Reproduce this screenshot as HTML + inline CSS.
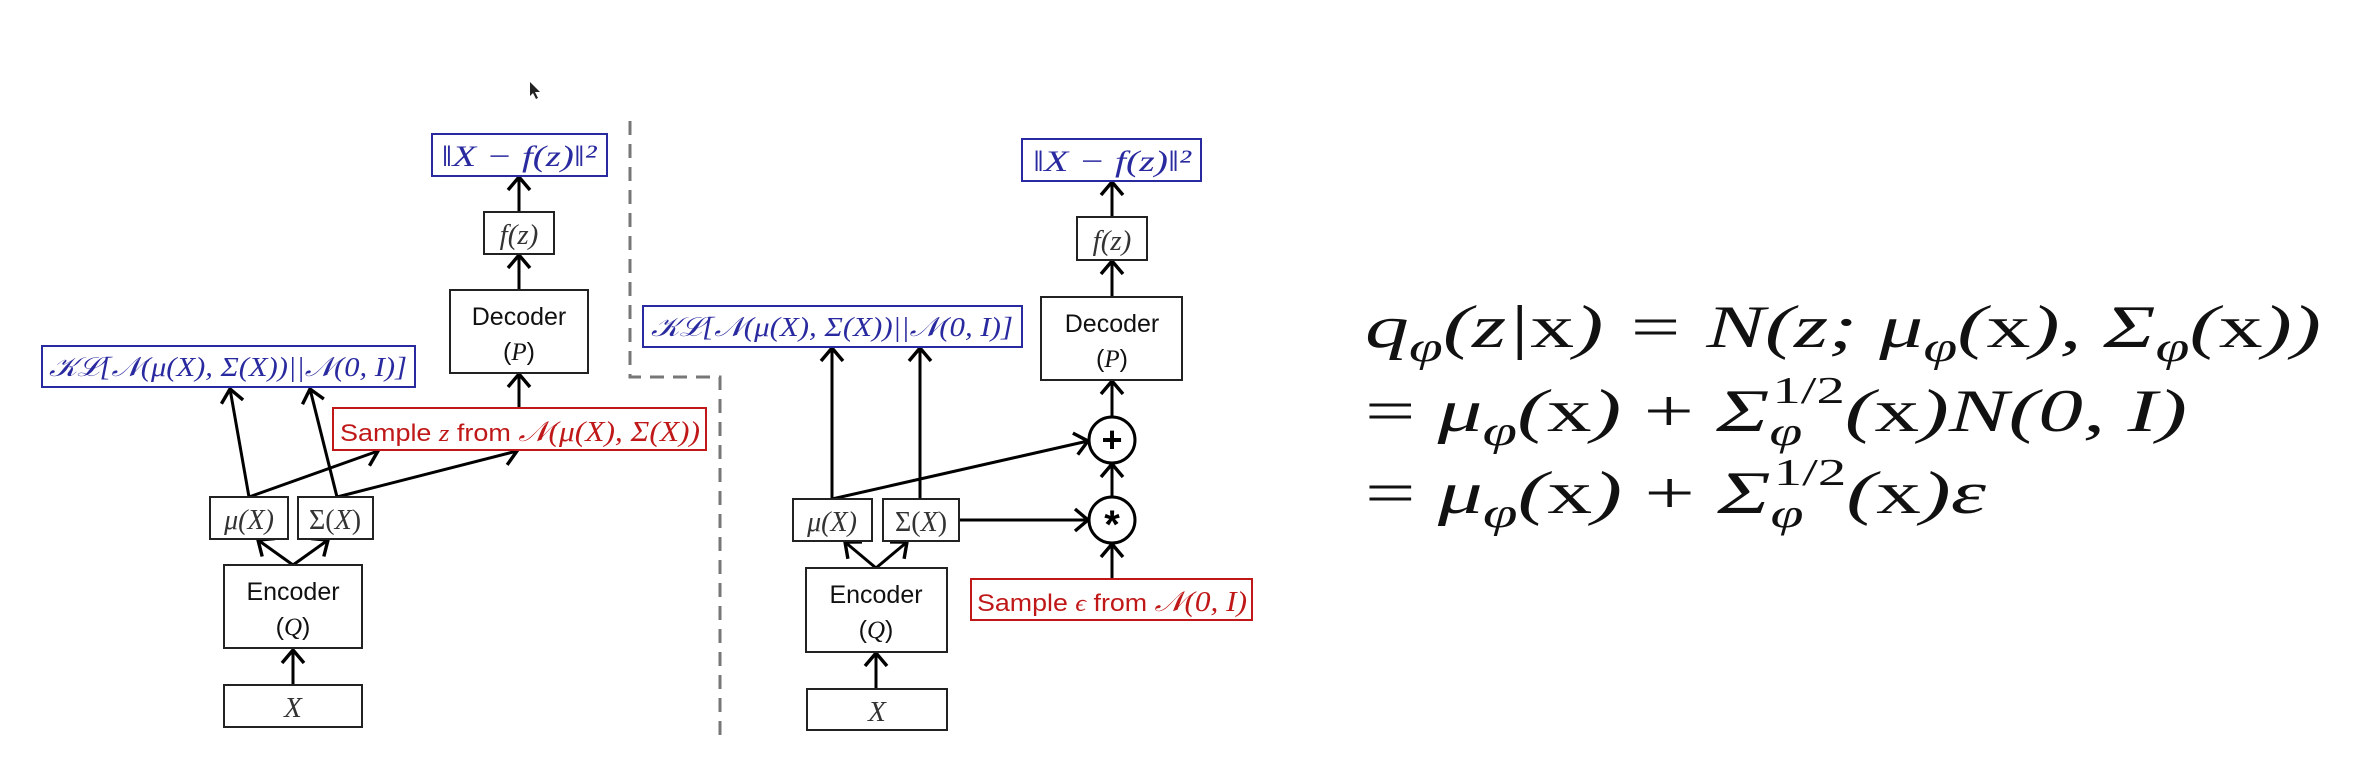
<!DOCTYPE html>
<html><head><meta charset="utf-8"><style>
html,body{margin:0;padding:0;background:#fff;}
svg{display:block;}
.m{font-family:"Liberation Serif","DejaVu Serif",serif;font-style:italic;}
.s{font-family:"Liberation Sans","DejaVu Sans",sans-serif;}
</style></head><body>
<svg width="2375" height="763" viewBox="0 0 2375 763" xmlns="http://www.w3.org/2000/svg">
<defs>
<marker id="a" markerUnits="userSpaceOnUse" markerWidth="34" markerHeight="34" refX="17" refY="17" orient="auto">
<polyline points="4,6 17,17 4,28" fill="none" stroke="#000" stroke-width="3.4"/>
</marker>
</defs>
<path d="M530,82 L530,96 L533,93 L536,99 L538,98 L535,92 L540,92 Z" fill="#222"/>
<path d="M630,121 L630,377 L720,377 L720,735" fill="none" stroke="#777" stroke-width="3" stroke-dasharray="14,9"/>

<g fill="none" stroke="#000" stroke-width="3" marker-end="url(#a)">
<line x1="293" y1="685" x2="293" y2="650"/>
<line x1="293" y1="565" x2="258" y2="540"/>
<line x1="293" y1="565" x2="328" y2="540"/>
<line x1="249" y1="497" x2="230" y2="389"/>
<line x1="249" y1="497" x2="378" y2="451"/>
<line x1="337" y1="497" x2="310" y2="389"/>
<line x1="337" y1="497" x2="517" y2="451"/>
<line x1="519" y1="408" x2="519" y2="374"/>
<line x1="519" y1="290" x2="519" y2="255"/>
<line x1="519" y1="212" x2="519" y2="177"/>
<line x1="876" y1="689" x2="876" y2="653"/>
<line x1="876" y1="568" x2="845" y2="542"/>
<line x1="876" y1="568" x2="907" y2="542"/>
<line x1="832" y1="499" x2="832" y2="348"/>
<line x1="920" y1="499" x2="920" y2="348"/>
<line x1="832" y1="499" x2="1088" y2="441"/>
<line x1="959" y1="520" x2="1088" y2="520"/>
<line x1="1112" y1="579" x2="1112" y2="544"/>
<line x1="1112" y1="497" x2="1112" y2="464"/>
<line x1="1112" y1="417" x2="1112" y2="381"/>
<line x1="1112" y1="297" x2="1112" y2="261"/>
<line x1="1112" y1="217" x2="1112" y2="182"/>
</g>

<g fill="#fff" stroke-width="2">
<rect x="432" y="134" width="175" height="42" stroke="#2a2aa0"/>
<rect x="484" y="212" width="70" height="42" stroke="#222"/>
<rect x="450" y="290" width="138" height="83" stroke="#222"/>
<rect x="42" y="346" width="373" height="41" stroke="#2a2aa0"/>
<rect x="333" y="408" width="373" height="42" stroke="#c01818"/>
<rect x="210" y="497" width="78" height="42" stroke="#222"/>
<rect x="298" y="497" width="75" height="42" stroke="#222"/>
<rect x="224" y="565" width="138" height="83" stroke="#222"/>
<rect x="224" y="685" width="138" height="42" stroke="#222"/>
<rect x="1022" y="139" width="179" height="42" stroke="#2a2aa0"/>
<rect x="1077" y="217" width="70" height="43" stroke="#222"/>
<rect x="1041" y="297" width="141" height="83" stroke="#222"/>
<rect x="643" y="306" width="379" height="41" stroke="#2a2aa0"/>
<rect x="971" y="579" width="281" height="41" stroke="#c01818"/>
<rect x="793" y="499" width="79" height="42" stroke="#222"/>
<rect x="883" y="499" width="76" height="42" stroke="#222"/>
<rect x="806" y="568" width="141" height="84" stroke="#222"/>
<rect x="807" y="689" width="140" height="41" stroke="#222"/>
</g>
<circle cx="1112" cy="440" r="23" fill="#fff" stroke="#000" stroke-width="3"/>
<circle cx="1112" cy="520" r="23" fill="#fff" stroke="#000" stroke-width="3"/>
<text x="1112" y="452" text-anchor="middle" class="s" font-size="36" font-weight="bold">+</text>
<text x="1112" y="538" text-anchor="middle" class="s" font-size="40" font-weight="bold">*</text>

<g class="m" font-size="30" text-anchor="middle">
<text x="519" y="166" fill="#2a2aa0" textLength="155" lengthAdjust="spacingAndGlyphs">‖X − f(z)‖²</text>
<text x="519" y="244" fill="#333" font-size="29">f(z)</text>
<text x="228" y="376" fill="#2a2aa0" font-size="27" textLength="358" lengthAdjust="spacingAndGlyphs">𝒦ℒ[𝒩(μ(X), Σ(X))||𝒩(0, I)]</text>
<text x="249" y="529" fill="#333" font-size="28">μ(X)</text>
<text x="335" y="529" fill="#333" font-size="28" font-style="normal">Σ(<tspan font-style="italic">X</tspan>)</text>
<text x="293" y="717" fill="#333" font-size="29">X</text>
<text x="1112" y="171" fill="#2a2aa0" textLength="158" lengthAdjust="spacingAndGlyphs">‖X − f(z)‖²</text>
<text x="1112" y="250" fill="#333" font-size="29">f(z)</text>
<text x="832" y="336" fill="#2a2aa0" font-size="27" textLength="362" lengthAdjust="spacingAndGlyphs">𝒦ℒ[𝒩(μ(X), Σ(X))||𝒩(0, I)]</text>
<text x="832" y="531" fill="#333" font-size="28">μ(X)</text>
<text x="921" y="531" fill="#333" font-size="28" font-style="normal">Σ(<tspan font-style="italic">X</tspan>)</text>
<text x="877" y="721" fill="#333" font-size="29">X</text>
</g>
<g class="s" font-size="25" text-anchor="middle" fill="#111">
<text x="519" y="325">Decoder</text>
<text x="519" y="360">(<tspan class="m">P</tspan>)</text>
<text x="293" y="600">Encoder</text>
<text x="293" y="635">(<tspan class="m">Q</tspan>)</text>
<text x="1112" y="332">Decoder</text>
<text x="1112" y="367">(<tspan class="m">P</tspan>)</text>
<text x="876" y="603">Encoder</text>
<text x="876" y="638">(<tspan class="m">Q</tspan>)</text>
</g>
<text x="340" y="441" fill="#c01818" class="s" font-size="24" textLength="360" lengthAdjust="spacingAndGlyphs">Sample <tspan class="m">z</tspan> from <tspan class="m" font-size="28">𝒩(μ(X), Σ(X))</tspan></text>
<text x="977" y="611" fill="#c01818" class="s" font-size="24" textLength="270" lengthAdjust="spacingAndGlyphs">Sample <tspan class="m">ϵ</tspan> from <tspan class="m" font-size="28">𝒩(0, I)</tspan></text>

<g class="m" font-size="60" fill="#111">
<text x="1365" y="347" textLength="956" lengthAdjust="spacingAndGlyphs">q<tspan font-size="42" dy="14">φ</tspan><tspan dy="-14">(z|</tspan><tspan font-style="normal">x</tspan>) = N(z; μ<tspan font-size="42" dy="14">φ</tspan><tspan dy="-14">(</tspan><tspan font-style="normal">x</tspan>), Σ<tspan font-size="42" dy="14">φ</tspan><tspan dy="-14">(</tspan><tspan font-style="normal">x</tspan>))</text>
<text x="1365" y="431" textLength="822" lengthAdjust="spacingAndGlyphs"><tspan font-style="normal">=</tspan> μ<tspan font-size="42" dy="14">φ</tspan><tspan dy="-14">(</tspan><tspan font-style="normal">x</tspan>) <tspan font-style="normal">+</tspan> Σ<tspan font-size="40" dy="14">φ</tspan><tspan font-size="38" font-style="normal" dy="-42" dx="-20">1/2</tspan><tspan dy="28">(</tspan><tspan font-style="normal">x</tspan>)N(0, I)</text>
<text x="1365" y="513" textLength="621" lengthAdjust="spacingAndGlyphs"><tspan font-style="normal">=</tspan> μ<tspan font-size="42" dy="14">φ</tspan><tspan dy="-14">(</tspan><tspan font-style="normal">x</tspan>) <tspan font-style="normal">+</tspan> Σ<tspan font-size="40" dy="14">φ</tspan><tspan font-size="38" font-style="normal" dy="-42" dx="-20">1/2</tspan><tspan dy="28">(</tspan><tspan font-style="normal">x</tspan>)ε</text>
</g>
</svg>
</body></html>
